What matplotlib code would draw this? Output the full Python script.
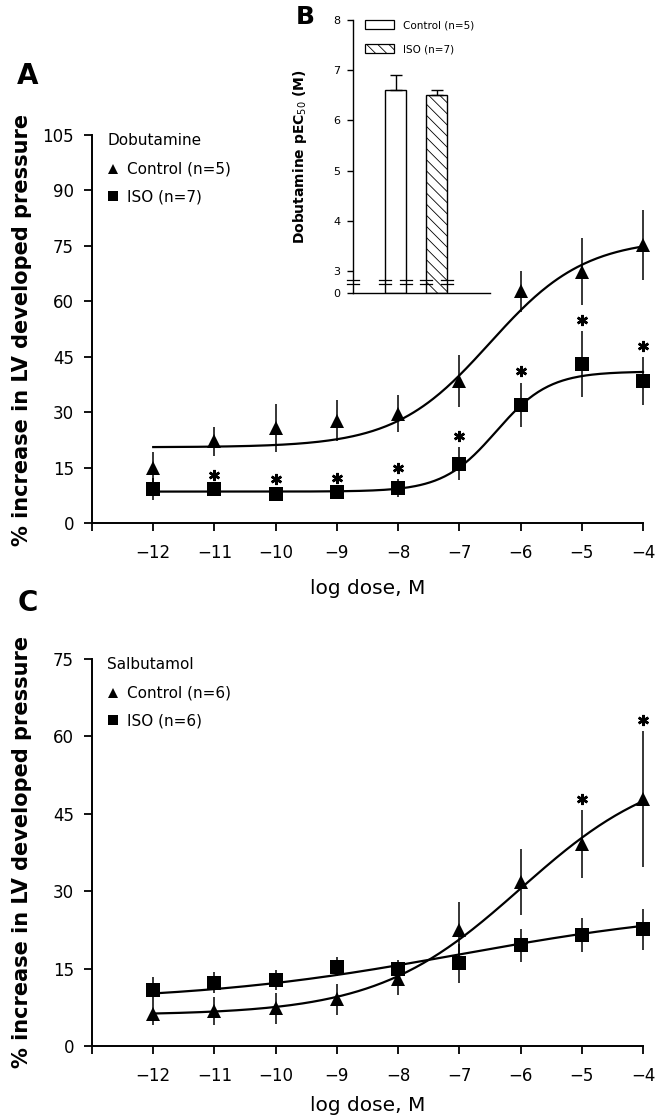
import numpy as np
import matplotlib
matplotlib.use("Agg")
import matplotlib.pyplot as plt
from matplotlib.lines import Line2D
from matplotlib.patches import Patch
from matplotlib.transforms import offset_copy

plt.rcParams['font.family'] = ['DejaVu Sans']
plt.rcParams['hatch.linewidth'] = 0.6

doses = [-12, -11, -10, -9, -8, -7, -6, -5, -4]
dose_ticks = [-13, -12, -11, -10, -9, -8, -7, -6, -5, -4]
dose_labels = ['', '\u221212', '\u221211', '\u221210', '\u22129', '\u22128',
               '\u22127', '\u22126', '\u22125', '\u22124']

# A: dobutamine, % increase in LV developed pressure (mean, sem)
dob_ctrl = [14.8, 22.1, 25.6, 27.7, 29.6, 38.5, 62.7, 68.0, 75.3]
dob_ctrl_err = [4.5, 4.0, 6.5, 5.5, 5.0, 7.0, 5.5, 9.0, 9.5]
dob_iso = [9.2, 9.1, 7.9, 8.3, 9.5, 16.1, 32.0, 43.0, 38.5]
dob_iso_err = [3.0, 1.0, 1.0, 1.0, 2.5, 4.5, 6.0, 9.0, 6.5]
dob_iso_sig = [-11, -10, -9, -8, -7, -6, -5, -4]
# fitted sigmoid: bottom, top, logEC50, hill slope
dob_ctrl_fit = [20.5, 77.0, -6.5, 0.56]
dob_iso_fit = [8.5, 41.0, -6.4, 1.0]

# C: salbutamol
sal_ctrl = [6.2, 6.8, 7.3, 9.1, 13.0, 22.4, 31.8, 39.2, 47.9]
sal_ctrl_err = [2.1, 2.7, 3.0, 3.0, 3.2, 5.5, 6.4, 6.6, 13.2]
sal_iso = [10.9, 12.3, 12.8, 15.4, 15.0, 16.0, 19.5, 21.6, 22.6]
sal_iso_err = [2.5, 2.0, 2.0, 1.9, 1.7, 3.8, 3.2, 3.3, 4.0]
sal_ctrl_sig = [-5, -4]
sal_ctrl_fit = [6.0, 55.0, -6.0, 0.37]
sal_iso_fit = [8.5, 27.0, -7.0, 0.2]

# B: dobutamine pEC50
groups = ['Control (n=5)', 'ISO (n=7)']
pec50 = [6.6, 6.5]
pec50_err = [0.3, 0.1]


def hill(x, p):
    b, t, ec, h = p
    return b + (t - b) / (1 + 10 ** ((ec - x) * h))


W, H = 668, 1119
fig = plt.figure(figsize=(W / 100, H / 100), dpi=100)


def box(l, t, r, b):
    return [l / W, 1 - b / H, (r - l) / W, (b - t) / H]


def style(ax, ymax, ystep, xpad):
    for s in ['top', 'right']:
        ax.spines[s].set_visible(False)
    for s in ['left', 'bottom']:
        ax.spines[s].set_linewidth(1.4)
    ax.set_xlim(-13, -4)
    ax.set_ylim(0, ymax)
    ax.set_xticks(dose_ticks)
    ax.set_xticklabels(dose_labels)
    ax.set_yticks(np.arange(0, ymax + 1, ystep))
    ax.tick_params(direction='out', length=6, width=1.3, labelsize=12)
    ax.tick_params(axis='x', pad=9)
    ax.tick_params(axis='y', pad=7)
    ax.set_xlabel('log dose, M', fontsize=14.5, labelpad=xpad)


def draw(ax, ctrl, ctrl_err, iso, iso_err, ctrl_fit, iso_fit):
    xx = np.linspace(-12, -4, 300)
    ax.plot(xx, hill(xx, ctrl_fit), color='k', lw=1.6, clip_on=False)
    ax.plot(xx, hill(xx, iso_fit), color='k', lw=1.6, clip_on=False)
    ax.errorbar(doses, ctrl, yerr=ctrl_err, fmt='^', color='k', ms=9.5, mew=0,
                elinewidth=1.1, capsize=4.5, capthick=1.1, clip_on=False)
    ax.errorbar(doses, iso, yerr=iso_err, fmt='s', color='k', ms=9.5, mew=0,
                elinewidth=1.1, capsize=4.5, capthick=1.1, clip_on=False)


def stars(ax, sig, vals, errs):
    tr = offset_copy(ax.transData, fig=fig, y=8, units='points')
    ys = [vals[doses.index(d)] + errs[doses.index(d)] for d in sig]
    ax.plot(sig, ys, ls='none', marker=(6, 2, 0), ms=8, mew=1.8,
            color='k', transform=tr, clip_on=False)


def legend(ax, title, labels):
    hs = [Line2D([], [], ls='none', marker='^', color='k', ms=7, mew=0),
          Line2D([], [], ls='none', marker='s', color='k', ms=7, mew=0)]
    leg = ax.legend(hs, labels, title=title, loc='upper left',
                    bbox_to_anchor=(0.028, 1.005), frameon=False,
                    alignment='left', fontsize=11, title_fontsize=11,
                    handlelength=0.7, handletextpad=0.6, labelspacing=0.8,
                    borderpad=0, borderaxespad=0)
    leg._legend_box.sep = 10


# panel A
axA = fig.add_axes(box(92, 135, 643, 523))
style(axA, 105, 15, 12)
draw(axA, dob_ctrl, dob_ctrl_err, dob_iso, dob_iso_err, dob_ctrl_fit, dob_iso_fit)
stars(axA, dob_iso_sig, dob_iso, dob_iso_err)
legend(axA, 'Dobutamine', ['Control (n=5)', 'ISO (n=7)'])

# panel C
axC = fig.add_axes(box(92, 659, 643, 1046))
style(axC, 75, 15, 8)
draw(axC, sal_ctrl, sal_ctrl_err, sal_iso, sal_iso_err, sal_ctrl_fit, sal_iso_fit)
stars(axC, sal_ctrl_sig, sal_ctrl, sal_ctrl_err)
legend(axC, 'Salbutamol', ['Control (n=6)', 'ISO (n=6)'])

ylab = '% increase in LV developed pressure'
fig.text(22 / W, 1 - 330 / H, ylab, rotation=90, ha='center', va='center',
         fontsize=15, fontweight='bold')
fig.text(22 / W, 1 - 852 / H, ylab, rotation=90, ha='center', va='center',
         fontsize=15, fontweight='bold')
fig.text(28 / W, 1 - 76 / H, 'A', fontsize=20, fontweight='bold', ha='center', va='center')
fig.text(28 / W, 1 - 603 / H, 'C', fontsize=20, fontweight='bold', ha='center', va='center')
fig.text(305 / W, 1 - 17 / H, 'B', fontsize=18, fontweight='bold', ha='center', va='center')

# panel B inset with broken y axis (0..3 squeezed)
lo, gap = 2.56, 0.44


def fwd(v):
    v = np.asarray(v, dtype=float)
    return np.where(v < 3, lo + v * gap / 3, v)


def inv(d):
    d = np.asarray(d, dtype=float)
    return np.where(d < 3, (d - lo) * 3 / gap, d)


axB = fig.add_axes(box(353, 20, 490, 293))
axB.patch.set_alpha(0)
axB.set_yscale('function', functions=(fwd, inv))
axB.set_ylim(0, 8)
axB.set_xlim(-0.037, 3.305)
bw = 0.51
bars = axB.bar([1, 2], pec50, width=bw, color='white', edgecolor='k', linewidth=1)
bars[1].set_hatch('\\\\\\')
axB.errorbar([1, 2], pec50, yerr=[[0, 0], pec50_err], fmt='none', ecolor='k',
             elinewidth=1, capsize=4, capthick=1)
for s in ['top', 'right']:
    axB.spines[s].set_visible(False)
axB.spines['left'].set_linewidth(1)
axB.spines['bottom'].set_linewidth(1)
axB.set_xticks([])
axB.set_yticks([0, 3, 4, 5, 6, 7, 8])
axB.tick_params(direction='out', length=4, width=1, labelsize=8, pad=5)
axB.set_ylabel('Dobutamine pEC$_{50}$ (M)', fontsize=10, fontweight='bold')
axB.yaxis.set_label_coords(-0.32, 0.5)
# break marks
edges = [-0.037, 1 - bw / 2, 1 + bw / 2, 2 - bw / 2, 2 + bw / 2]
for e in edges:
    for yb in [1.25, 1.8]:
        axB.plot([e - 0.14, e + 0.14], [yb, yb], color='k', lw=0.9, clip_on=False)
hB = [Patch(facecolor='white', edgecolor='k', lw=0.9),
      Patch(facecolor='white', edgecolor='k', lw=0.9, hatch='\\\\\\')]
axB.legend(hB, groups, loc='upper left', bbox_to_anchor=(0.09, 1.0),
           frameon=False, fontsize=7.5, handlelength=2.8, handleheight=1.0,
           labelspacing=1.3, borderpad=0, borderaxespad=0, handletextpad=0.8)

fig.savefig('out.png', dpi=100)
